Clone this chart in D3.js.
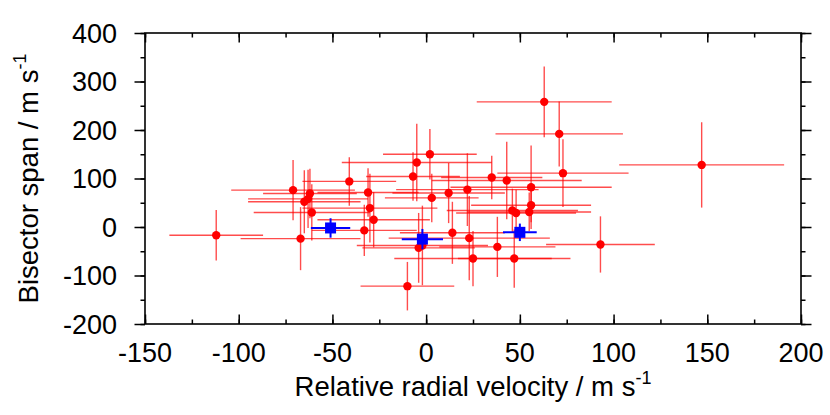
<html>
<head>
<script src="https://d3js.org/d3.v7.min.js"></script>
<style>
  body { margin: 0; background: #fff; }
  text { font-family: "Liberation Sans", Arial, sans-serif; }
</style>
</head>
<body>
<svg id="vis"></svg>
<script>
// red points: relative RV, bisector span, and their errors
const rv     = [-112, -71, -67, -65, -63, -62, -61, -41, -31, -33, -30, -28, -10, -7, -5, 2, -4, -2, 3, 12, 14, 22, 23, 25, 35, 38, 43, 46, 47, 48, 55, 56, 56, 63, 71, 73, 93, 147];
const bis    = [-17, 76, -24, 52, 58, 69, 30, 94, 71, -7, 39, 15, -122, 104, 133, 150, -43, -38, 60, 70, -12, 77, -23, -65, 102, -41, 96, 34, -65, 29, 31, 45, 82, 258, 192, 111, -36, 128];
const rvErr  = [25, 33, 32, 30, 32, 25, 31, 25, 27, 28, 36, 30, 25, 25, 40, 25, 30, 35, 25, 30, 28, 38, 43, 42, 27, 31, 40, 35, 30, 32, 33, 32, 43, 36, 34, 35, 29, 44];
const bisErr = [52, 62, 65, 65, 60, 51, 58, 50, 50, 53, 71, 57, 50, 50, 80, 52, 72, 82, 50, 62, 64, 75, 87, 57, 45, 62, 80, 45, 60, 48, 40, 35, 86, 73, 67, 70, 58, 88];

// blue squares
const rvBlue     = [-51, -2, 50];
const bisBlue    = [-2, -25, -11];
const rvErrBlue  = [10.5, 11, 9];
const bisErrBlue = [20, 21, 18];

const xTicks = [-150, -100, -50, 0, 50, 100, 150, 200];
const yTicks = [-200, -100, 0, 100, 200, 300, 400];

const width = 830, height = 415;
const pLeft = 145, pRight = 801, pTop = 33, pBottom = 324;

let svg = d3.select('#vis').attr('width', width).attr('height', height);

let x = d3.scaleLinear().domain([-150, 200]).range([pLeft, pRight]);
let y = d3.scaleLinear().domain([-200, 400]).range([pBottom, pTop]);

let red = rv.map((v, i) => ({x: v, y: bis[i], ex: rvErr[i], ey: bisErr[i]}));
let blue = rvBlue.map((v, i) => ({x: v, y: bisBlue[i], ex: rvErrBlue[i], ey: bisErrBlue[i]}));

// error bars
function drawErr(data, color, w, op) {
  let g = svg.append('g').attr('stroke', color).attr('stroke-width', w).attr('stroke-opacity', op);
  g.selectAll('.h').data(data).enter().append('line')
    .attr('x1', d => x(d.x - d.ex)).attr('x2', d => x(d.x + d.ex))
    .attr('y1', d => y(d.y)).attr('y2', d => y(d.y));
  g.selectAll('.v').data(data).enter().append('line')
    .attr('x1', d => x(d.x)).attr('x2', d => x(d.x))
    .attr('y1', d => y(d.y - d.ey)).attr('y2', d => y(d.y + d.ey));
}
drawErr(red, '#ff0000', 1.4, 0.7);

svg.append('g').selectAll('circle').data(red).enter().append('circle')
  .attr('cx', d => x(d.x)).attr('cy', d => y(d.y)).attr('r', 4.2)
  .attr('fill', '#ff0000');

drawErr(blue, '#0000ff', 2, 1);
svg.append('g').selectAll('rect').data(blue).enter().append('rect')
  .attr('x', d => x(d.x) - 5.5).attr('y', d => y(d.y) - 5.5)
  .attr('width', 11).attr('height', 11)
  .attr('fill', '#0000ff');

// axes: x ticks point inwards, y ticks point outwards
function styleAxis(g) {
  g.select('.domain').remove();
  g.selectAll('line').attr('stroke', '#000').attr('stroke-width', 1.5);
  g.selectAll('text').remove();
}
let xMinor = d3.range(-150, 201, 25);
let yMinor = d3.range(-200, 401, 50);

svg.append('g').attr('transform', `translate(0,${pBottom})`)
  .call(d3.axisBottom(x).tickValues(xMinor).tickSize(-4.5)).call(styleAxis);
svg.append('g').attr('transform', `translate(0,${pBottom})`)
  .call(d3.axisBottom(x).tickValues(xTicks).tickSize(-9.5)).call(styleAxis);
svg.append('g').attr('transform', `translate(0,${pTop})`)
  .call(d3.axisTop(x).tickValues(xMinor).tickSize(-4.5)).call(styleAxis);
svg.append('g').attr('transform', `translate(0,${pTop})`)
  .call(d3.axisTop(x).tickValues(xTicks).tickSize(-9.5)).call(styleAxis);
svg.append('g').attr('transform', `translate(${pLeft},0)`)
  .call(d3.axisLeft(y).tickValues(yMinor).tickSize(4.5)).call(styleAxis);
svg.append('g').attr('transform', `translate(${pLeft},0)`)
  .call(d3.axisLeft(y).tickValues(yTicks).tickSize(10.5)).call(styleAxis);
svg.append('g').attr('transform', `translate(${pRight},0)`)
  .call(d3.axisRight(y).tickValues(yMinor).tickSize(4.5)).call(styleAxis);
svg.append('g').attr('transform', `translate(${pRight},0)`)
  .call(d3.axisRight(y).tickValues(yTicks).tickSize(10.5)).call(styleAxis);

svg.append('rect')
  .attr('x', pLeft).attr('y', pTop)
  .attr('width', pRight - pLeft).attr('height', pBottom - pTop)
  .attr('fill', 'none').attr('stroke', '#000').attr('stroke-width', 1.6);

// tick labels
svg.append('g').selectAll('text').data(xTicks).enter().append('text')
  .attr('x', d => x(d)).attr('y', 362)
  .attr('text-anchor', 'middle').attr('font-size', 27)
  .text(d => d);
svg.append('g').selectAll('text').data(yTicks).enter().append('text')
  .attr('x', 117).attr('y', d => y(d) + 9.5)
  .attr('text-anchor', 'end').attr('font-size', 27)
  .text(d => d);

// axis titles
let xl = svg.append('text')
  .attr('x', (pLeft + pRight) / 2).attr('y', 396)
  .attr('text-anchor', 'middle').attr('font-size', 27.5);
xl.append('tspan').text('Relative radial velocity / m s');
xl.append('tspan').attr('dy', -12).attr('font-size', 18).text('-1');

let yl = svg.append('text')
  .attr('transform', `translate(38,${(pTop + pBottom) / 2}) rotate(-90)`)
  .attr('text-anchor', 'middle').attr('font-size', 27.5);
yl.append('tspan').text('Bisector span / m s');
yl.append('tspan').attr('dy', -12).attr('font-size', 18).text('-1');
</script>
</body>
</html>
